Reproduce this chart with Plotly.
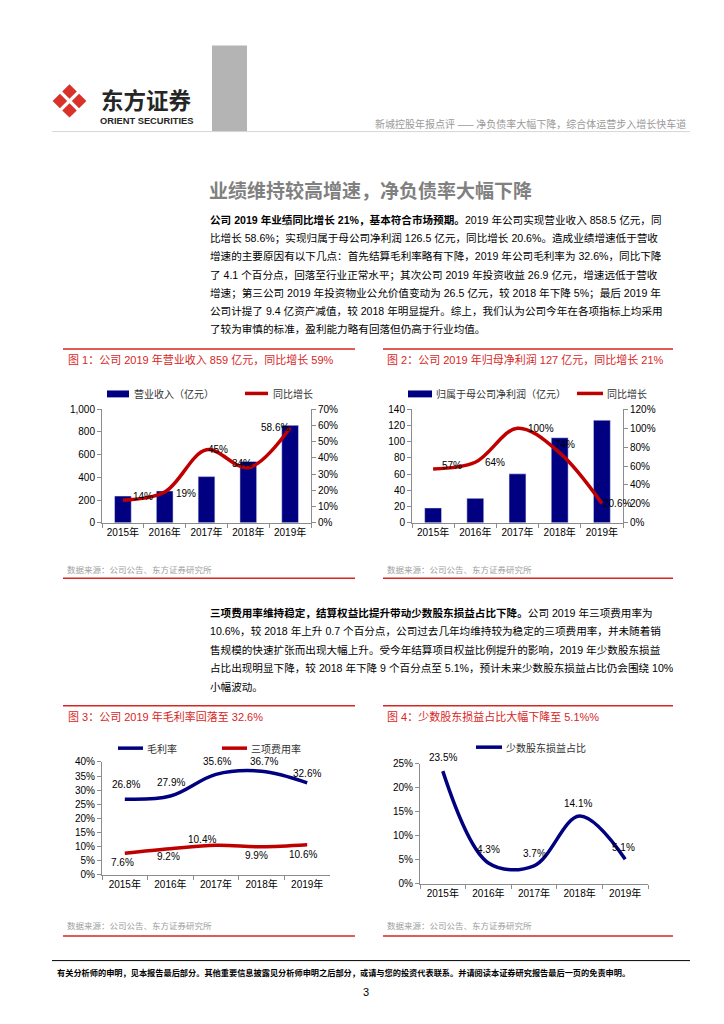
import plotly.graph_objects as go

# ---------------- data ----------------
years = ["2015年", "2016年", "2017年", "2018年", "2019年"]
revenue = [236, 281, 407, 541, 858.5]            # 营业收入（亿元）
revenue_growth = [14, 19, 45, 34, 58.6]          # 同比增长 %
revenue_growth_labels = ["14%", "19%", "45%", "34%", "58.6%"]
net_profit = [18.4, 30.2, 60.4, 104.9, 126.5]    # 归属于母公司净利润（亿元）
profit_growth = [57, 64, 100, 74, 20.6]          # 同比增长 %
profit_growth_labels = ["57%", "64%", "100%", "74%", "20.6%"]
gross_margin = [26.8, 27.9, 35.6, 36.7, 32.6]    # 毛利率 %
expense_ratio = [7.6, 9.2, 10.4, 9.9, 10.6]      # 三项费用率 %
minority_share = [23.5, 4.3, 3.7, 14.1, 5.1]     # 少数股东损益占比 %

# ---------------- page geometry helpers ----------------
OFF = 8
W, H = 724 - 2 * OFF, 1024 - 2 * OFF


def PX(x):
    return (x - OFF) / W


def PY(y):
    return 1 - (y - OFF) / H


FONT = "Liberation Sans, Noto Sans CJK SC, sans-serif"
CJK = "Noto Sans CJK SC, Liberation Sans, sans-serif"
NAVY = "#000080"
RED = "#c00000"
TRED = "#d7261e"
AX = "#8c8c8c"

fig = go.Figure()

# chart 1
fig.add_trace(go.Bar(x=years, y=revenue, xaxis="x", yaxis="y", marker_color=NAVY))
fig.add_trace(go.Scatter(x=years, y=revenue_growth, xaxis="x", yaxis="y2", mode="lines",
                         line=dict(color=RED, width=3.5, shape="spline", smoothing=1)))
# chart 2
fig.add_trace(go.Bar(x=years, y=net_profit, xaxis="x2", yaxis="y3", marker_color=NAVY))
fig.add_trace(go.Scatter(x=years, y=profit_growth, xaxis="x2", yaxis="y4", mode="lines",
                         line=dict(color=RED, width=3.5, shape="spline", smoothing=1)))
# chart 3
fig.add_trace(go.Scatter(x=years, y=gross_margin, xaxis="x3", yaxis="y5", mode="lines",
                         line=dict(color=NAVY, width=3.5, shape="spline", smoothing=1)))
fig.add_trace(go.Scatter(x=years, y=expense_ratio, xaxis="x3", yaxis="y5", mode="lines",
                         line=dict(color=RED, width=3.5, shape="spline", smoothing=1)))
# chart 4
fig.add_trace(go.Scatter(x=years, y=minority_share, xaxis="x4", yaxis="y6", mode="lines",
                         line=dict(color=NAVY, width=3.5, shape="spline", smoothing=1)))

common = dict(showline=True, linecolor=AX, linewidth=1, ticks="outside", ticklen=4,
              tickcolor=AX, showgrid=False, zeroline=False,
              tickfont=dict(family=FONT, size=10, color="black"))
xcommon = dict(common, type="category", tickson="boundaries", range=[-0.5, 4.5])

fig.update_layout(
    width=W, height=H, margin=dict(l=0, r=0, t=0, b=0),
    paper_bgcolor="white", plot_bgcolor="white", showlegend=False,
    font=dict(family=FONT, size=10, color="black"), bargap=0.6,
    xaxis=dict(xcommon, domain=[PX(102), PX(311)], anchor="y"),
    yaxis=dict(common, domain=[PY(523), PY(408)], anchor="x", range=[0, 1000], dtick=200,
               tickformat=","),
    yaxis2=dict(common, overlaying="y", side="right", anchor="x", range=[0, 70], dtick=10,
                ticksuffix="%"),
    xaxis2=dict(xcommon, domain=[PX(412), PX(623)], anchor="y3"),
    yaxis3=dict(common, domain=[PY(523), PY(408)], anchor="x2", range=[0, 140], dtick=20),
    yaxis4=dict(common, overlaying="y3", side="right", anchor="x2", range=[0, 120], dtick=20,
                ticksuffix="%"),
    xaxis3=dict(xcommon, domain=[PX(102), PX(330)], anchor="y5"),
    yaxis5=dict(common, domain=[PY(879), PY(765)], anchor="x3", range=[0, 40], dtick=5,
                ticksuffix="%"),
    xaxis4=dict(xcommon, domain=[PX(420), PX(648)], anchor="y6"),
    yaxis6=dict(common, domain=[PY(888), PY(767)], anchor="x4", range=[0, 25], dtick=5,
                ticksuffix="%"),
)

annotations = []
shapes = []


def text(x, y, s, size=11, color="black", anchor="left", family=CJK, bold=False):
    if bold:
        s = "<b>" + s + "</b>"
    annotations.append(dict(x=PX(x), y=PY(y), xref="paper", yref="paper", text=s,
                            showarrow=False, xanchor=anchor, yanchor="middle",
                            font=dict(family=family, size=size, color=color)))


def hline(x0, x1, y, color, width=1):
    shapes.append(dict(type="line", xref="paper", yref="paper", x0=PX(x0), x1=PX(x1),
                       y0=PY(y), y1=PY(y), line=dict(color=color, width=width)))


def rect(x0, y0, x1, y1, color):
    shapes.append(dict(type="rect", xref="paper", yref="paper", x0=PX(x0), x1=PX(x1),
                       y0=PY(y1), y1=PY(y0), fillcolor=color, line=dict(width=0)))


# ---------------- header ----------------
rect(212, 40, 247, 127, "#b4b4b4")
hline(52, 690, 127, "#d6d6d6", 1)
# logo: four red diamonds forming a white X
cx, cy, r, d = 69.5, 96, 6.2, 9.6
for ox, oy in [(0, -d), (d, 0), (0, d), (-d, 0)]:
    px, py = cx + ox, cy + oy
    pts = [(px, py - r), (px + r, py), (px, py + r), (px - r, py)]
    path = "M " + " L ".join(f"{PX(a):.5f},{PY(b):.5f}" for a, b in pts) + " Z"
    shapes.append(dict(type="path", xref="paper", yref="paper", path=path,
                       fillcolor="#d9322b", line=dict(color="#d9322b", width=1.5)))
text(99, 94, "东方证券", size=22.5, color="#262626", bold=True)
text(98, 116, "ORIENT SECURITIES", size=9.3, color="#262626", family=FONT, bold=True)
text(688, 119, "新城控股年报点评 —— 净负债率大幅下降，综合体运营步入增长快车道",
     size=10, color="#9a9a9a", anchor="right")

# ---------------- section title & paragraph 1 ----------------
text(207, 186, "业绩维持较高增速，净负债率大幅下降", size=19, color="#808080", bold=True)
para1 = [
    "<b>公司 2019 年业绩同比增长 21%，基本符合市场预期。</b>2019 年公司实现营业收入 858.5 亿元，同",
    "比增长 58.6%；实现归属于母公司净利润 126.5 亿元，同比增长 20.6%。造成业绩增速低于营收",
    "增速的主要原因有以下几点：首先结算毛利率略有下降，2019 年公司毛利率为 32.6%，同比下降",
    "了 4.1 个百分点，回落至行业正常水平；其次公司 2019 年投资收益 26.9 亿元，增速远低于营收",
    "增速；第三公司 2019 年投资物业公允价值变动为 26.5 亿元，较 2018 年下降 5%；最后 2019 年",
    "公司计提了 9.4 亿资产减值，较 2018 年明显提升。综上，我们认为公司今年在各项指标上均采用",
    "了较为审慎的标准，盈利能力略有回落但仍高于行业均值。",
]
for i, line in enumerate(para1):
    text(208, 216 + i * 18.55, line, size=10.6, family=FONT)

para2 = [
    "<b>三项费用率维持稳定，结算权益比提升带动少数股东损益占比下降。</b>公司 2019 年三项费用率为",
    "10.6%，较 2018 年上升 0.7 个百分点，公司过去几年均维持较为稳定的三项费用率，并未随着销",
    "售规模的快速扩张而出现大幅上升。受今年结算项目权益比例提升的影响，2019 年少数股东损益",
    "占比出现明显下降，较 2018 年下降 9 个百分点至 5.1%，预计未来少数股东损益占比仍会围绕 10%",
    "小幅波动。",
]
for i, line in enumerate(para2):
    text(208, 614 + i * 18.7, line, size=10.6, family=FONT)

# ---------------- figure frames ----------------
titles = [
    (66, 358, "图 1：公司 2019 年营业收入 859 亿元，同比增长 59%"),
    (385, 358, "图 2：公司 2019 年归母净利润 127 亿元，同比增长 21%"),
    (66, 719, "图 3：公司 2019 年毛利率回落至 32.6%"),
    (385, 719, "图 4：少数股东损益占比大幅下降至 5.1%%"),
]
for x, y, s in titles:
    text(x, y, s, size=11, color=TRED, family=FONT)
for x0, x1 in [(63, 355), (383, 673)]:
    hline(x0, x1, 347, TRED, 1.5)
    hline(x0, x1, 579, TRED, 1.5)
    hline(x0, x1, 708, TRED, 1.5)
    hline(x0, x1, 941, TRED, 1.5)
for x, y in [(65, 570), (385, 570), (65, 930), (385, 930)]:
    text(x, y, "数据来源：公司公告、东方证券研究所", size=8.5, color="#a0a0a0")

# ---------------- legends ----------------
rect(107, 389, 129, 396, NAVY)
text(132, 392, "营业收入（亿元）", size=10, color="#333333")
hline(245, 268, 392, RED, 3.5)
text(271, 392, "同比增长", size=10, color="#333333")

rect(408, 389, 432, 396, NAVY)
text(434, 392, "归属于母公司净利润（亿元）", size=10, color="#333333")
hline(577, 603, 392, RED, 3.5)
text(605, 392, "同比增长", size=10, color="#333333")

hline(118, 143, 751, NAVY, 3.5)
text(145, 751, "毛利率", size=10, color="#333333")
hline(222, 247, 751, RED, 3.5)
text(249, 751, "三项费用率", size=10, color="#333333")

hline(476, 502, 750, NAVY, 3.5)
text(504, 750, "少数股东损益占比", size=10, color="#333333")


# ---------------- data labels ----------------
def labels(xref, yref, xs, ys, texts, offsets):
    for xv, yv, t, (dx, dy) in zip(xs, ys, texts, offsets):
        annotations.append(dict(x=xv, y=yv, xref=xref, yref=yref, text=t, showarrow=False,
                                xanchor="center", yanchor="middle", xshift=dx, yshift=dy,
                                font=dict(family=FONT, size=10, color="black")))


labels("x", "y2", years, revenue_growth, revenue_growth_labels,
       [(20, 4), (21, -1), (11, 0), (-6, 4), (-15, 0)])
labels("x2", "y4", years, profit_growth, profit_growth_labels,
       [(19, 3), (20, 0), (23, 0), (5, 8), (15, 0)])
labels("x3", "y5", years, gross_margin, [f"{v:.1f}%" for v in gross_margin],
       [(1, 15), (1, 14), (1, 13), (2, 10), (0, 9)])
labels("x3", "y5", years, expense_ratio, [f"{v:.1f}%" for v in expense_ratio],
       [(-2, -9), (-2, -8), (-14, 6), (-5, -9), (-4, -10)])
labels("x4", "y6", years, minority_share, [f"{v:.1f}%" for v in minority_share],
       [(0, 14), (0, 13), (0, 12), (-2, 13), (-2, 12)])

# ---------------- footer ----------------
hline(52, 690, 966, "#000000", 1)
text(55, 978, "有关分析师的申明，见本报告最后部分。其他重要信息披露见分析师申明之后部分，或请与您的投资代表联系。并请阅读本证券研究报告最后一页的免责申明。",
     size=8.2, bold=True)
text(366, 998, "3", size=11, family=FONT, anchor="center")

fig.update_layout(annotations=annotations, shapes=shapes)
fig.write_html("out.html")
